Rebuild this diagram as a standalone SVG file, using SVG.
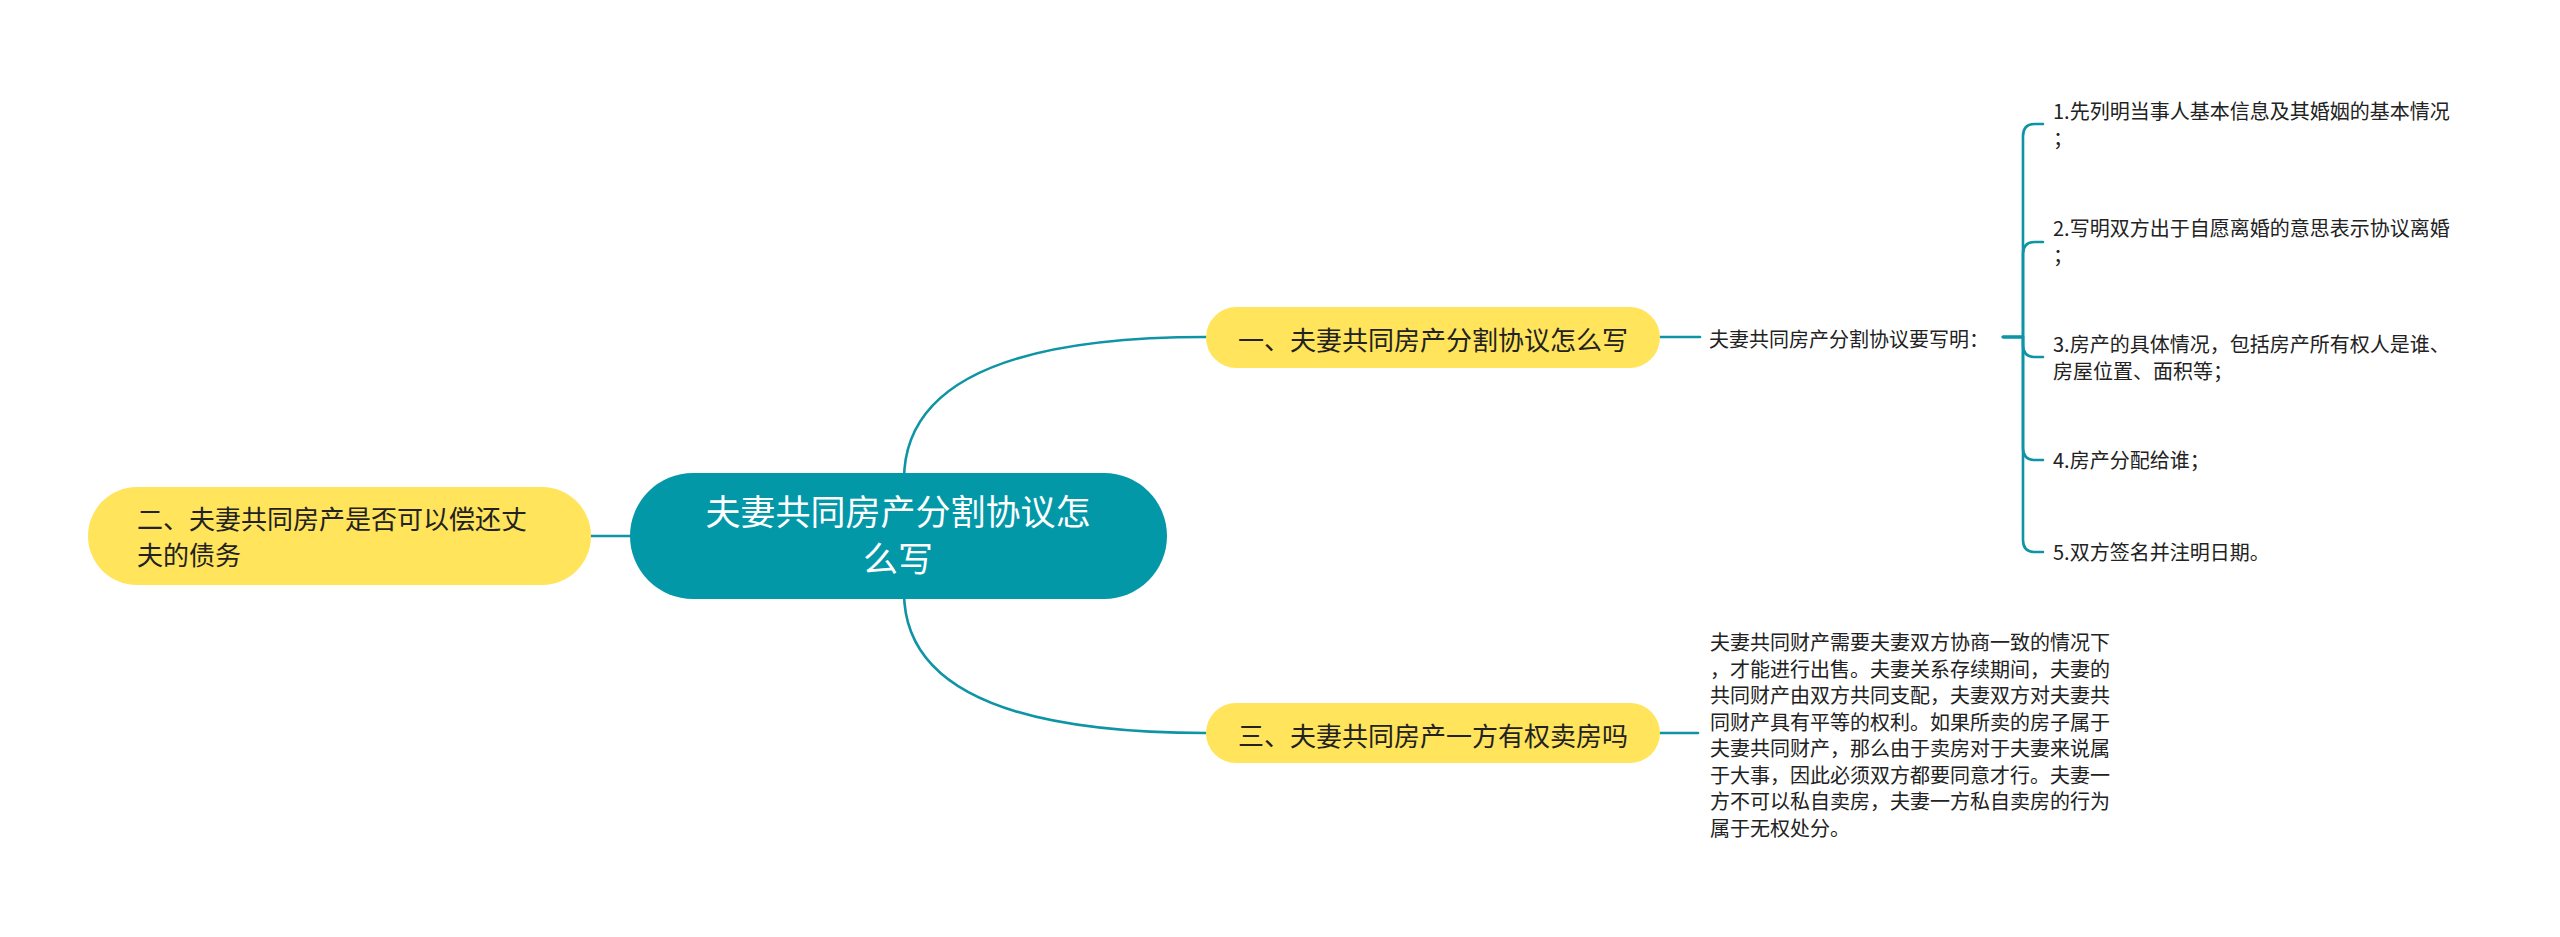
<svg xmlns="http://www.w3.org/2000/svg" width="2560" height="937" viewBox="0 0 2560 937">
<style>
.bg{fill:#ffffff}
.conn{fill:none;stroke:#0F94A5;stroke-width:2.6;stroke-linecap:round;stroke-linejoin:round}
.yel{fill:#FFE45C}
.root{fill:#0398A8}
.t{font-family:"Noto Sans CJK SC","Microsoft YaHei","Noto Sans",sans-serif}
.tw{fill:#ffffff;font-size:35px}
.tb{fill:#222222;font-size:26px}
.ts{fill:#222222;font-size:20px}
</style>
<rect class="bg" x="0" y="0" width="2560" height="937"/>
<g id="connectors">
  <path class="conn" d="M 898 536 H 591"/>
  <path class="conn" d="M 904 480 Q 904 337 1206 337"/>
  <path class="conn" d="M 904 592 Q 904 733 1206 733"/>
  <path class="conn" d="M 1660 337 H 1700"/>
  <path class="conn" d="M 1660 733 H 1698"/>
  <path class="conn" d="M 2003 337 H 2023 V 136 Q 2023 124 2035 124 H 2043"/>
  <path class="conn" d="M 2003 337 H 2023 V 254 Q 2023 242 2035 242 H 2043"/>
  <path class="conn" d="M 2003 337 H 2023 V 345 Q 2023 357 2035 357 H 2043"/>
  <path class="conn" d="M 2003 337 H 2023 V 448 Q 2023 460 2035 460 H 2043"/>
  <path class="conn" d="M 2003 337 H 2023 V 540 Q 2023 552 2035 552 H 2043"/>
</g>
<g id="node-root">
  <rect class="root" x="630" y="473" width="537" height="126" rx="63"/>
  <text class="t tw" text-anchor="middle"><tspan x="898" y="525">夫妻共同房产分割协议怎</tspan><tspan x="898" y="572">么写</tspan></text>
</g>
<g id="node-2">
  <rect class="yel" x="88" y="487" width="503" height="98" rx="49"/>
  <text class="t tb"><tspan x="137" y="529">二、夫妻共同房产是否可以偿还丈</tspan><tspan x="137" y="565">夫的债务</tspan></text>
</g>
<g id="node-1">
  <rect class="yel" x="1206" y="307" width="454" height="61" rx="30.5"/>
  <text class="t tb" x="1433" y="350" text-anchor="middle">一、夫妻共同房产分割协议怎么写</text>
</g>
<g id="node-3">
  <rect class="yel" x="1206" y="703" width="454" height="60" rx="30"/>
  <text class="t tb" x="1433" y="746" text-anchor="middle">三、夫妻共同房产一方有权卖房吗</text>
</g>
<g id="node-1-sub">
  <text class="t ts" x="1709" y="347">夫妻共同房产分割协议要写明：</text>
</g>
<g id="item-1">
  <text class="t ts"><tspan x="2053" y="118.5">1.先列明当事人基本信息及其婚姻的基本情况</tspan><tspan x="2053" y="145.5">；</tspan></text>
</g>
<g id="item-2">
  <text class="t ts"><tspan x="2053" y="235.5">2.写明双方出于自愿离婚的意思表示协议离婚</tspan><tspan x="2053" y="262.5">；</tspan></text>
</g>
<g id="item-3">
  <text class="t ts"><tspan x="2053" y="351.5">3.房产的具体情况，包括房产所有权人是谁、</tspan><tspan x="2053" y="378.5">房屋位置、面积等；</tspan></text>
</g>
<g id="item-4">
  <text class="t ts" x="2053" y="467.5">4.房产分配给谁；</text>
</g>
<g id="item-5">
  <text class="t ts" x="2053" y="559.5">5.双方签名并注明日期。</text>
</g>
<g id="node-3-text">
  <text class="t ts">
    <tspan x="1710" y="650">夫妻共同财产需要夫妻双方协商一致的情况下</tspan>
    <tspan x="1710" y="676.5">，才能进行出售。夫妻关系存续期间，夫妻的</tspan>
    <tspan x="1710" y="703">共同财产由双方共同支配，夫妻双方对夫妻共</tspan>
    <tspan x="1710" y="729.5">同财产具有平等的权利。如果所卖的房子属于</tspan>
    <tspan x="1710" y="756">夫妻共同财产，那么由于卖房对于夫妻来说属</tspan>
    <tspan x="1710" y="782.5">于大事，因此必须双方都要同意才行。夫妻一</tspan>
    <tspan x="1710" y="809">方不可以私自卖房，夫妻一方私自卖房的行为</tspan>
    <tspan x="1710" y="835.5">属于无权处分。</tspan>
  </text>
</g>
</svg>
